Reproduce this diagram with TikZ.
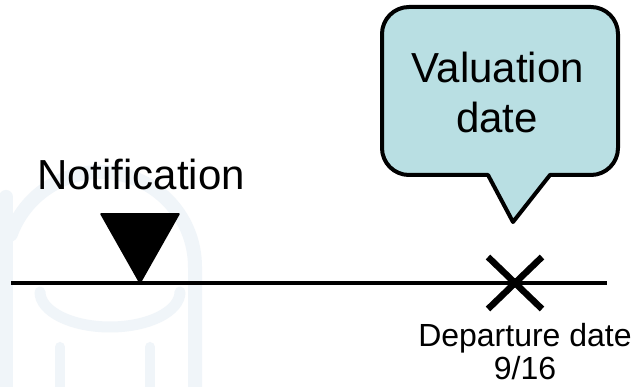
\documentclass[tikz,border=0pt]{standalone}
\usepackage{fontspec}
\setmainfont{Liberation Sans}
\begin{document}
\begin{tikzpicture}[x=1pt,y=1pt,
  bigtext/.style={font=\fontsize{42}{50}\selectfont, text=black, inner sep=0pt},
  smalltext/.style={font=\fontsize{32}{35}\selectfont, text=black, inner sep=0pt, align=center},
  timeline/.style={line width=3.2pt, black},
  marker/.style={fill=black, draw=black, line width=1.5pt, line join=round},
  crossmark/.style={line width=6.5pt, black},
  callout/.style={draw=black, line width=4pt, fill=calloutfill, line join=round},
  watermark/.style={draw=wmblue, line width=14pt, line cap=round}
]
\definecolor{calloutfill}{HTML}{B9DFE3}
\definecolor{wmblue}{HTML}{F0F5F9}
\useasboundingbox (0,0) rectangle (635,387);
\fill[white] (0,0) rectangle (635,387);

% faint globe emblem in the background
\begin{scope}
  \clip (0,0) rectangle (330,250);
  \draw[watermark] (6,0) -- (6,190);
  \draw[watermark] (195,0) -- (195,120) arc[start angle=0,end angle=160,radius=95];
  \draw[watermark, line width=11pt] (40,95) arc[start angle=180,end angle=360,x radius=70,y radius=35];
  \draw[watermark, line width=10pt] (60,0) -- (60,40);
  \draw[watermark, line width=10pt] (150,0) -- (150,40);
\end{scope}

% time axis
\coordinate (start) at (11,104);
\coordinate (end) at (607,104);
\draw[timeline] (start) -- (end);

% notification marker
\coordinate (notif) at (140,104);
\draw[marker] (notif) -- (101,173) -- (179,173) -- cycle;
\node[bigtext, anchor=base] (notiflabel) at (141,197) {Notification};

% departure marker
\coordinate (dep) at (515,104);
\draw[crossmark] ([shift={(-27,-26)}]dep) -- ([shift={(27,26)}]dep);
\draw[crossmark] ([shift={(-27,26)}]dep) -- ([shift={(27,-26)}]dep);
\node[smalltext, anchor=base] (deplabel) at (525,40) {Departure date};
\node[smalltext, anchor=base] (depdate) at (525,7) {9/16};

% valuation callout
\draw[callout] (488,212) -- (513,165) -- (550,212) -- (591,212)
  arc[start angle=-90,end angle=0,radius=27] -- (618,353)
  arc[start angle=0,end angle=90,radius=27] -- (409,380)
  arc[start angle=90,end angle=180,radius=27] -- (382,239)
  arc[start angle=180,end angle=270,radius=27] -- cycle;
\node[bigtext, anchor=base] (val1) at (498,304) {Valuation};
\node[bigtext, anchor=base] (val2) at (497,254) {date};
\end{tikzpicture}
\end{document}
